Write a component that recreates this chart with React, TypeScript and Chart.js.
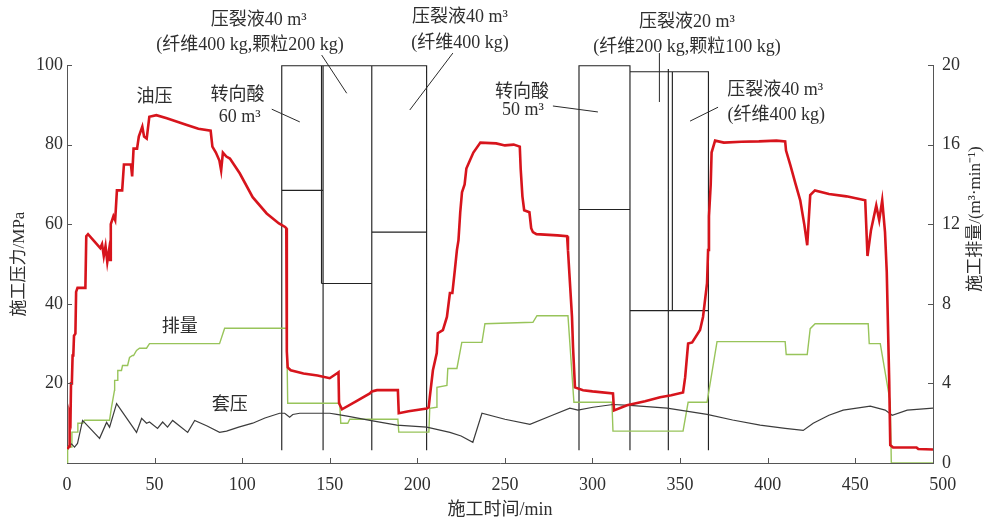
import React, { useEffect, useRef } from 'react';
import { Chart, registerables } from 'chart.js';

Chart.register(...registerables);

// ---------- data ----------
const xTickValues = [0, 50, 100, 150, 200, 250, 300, 350, 400, 450, 500];
const xMax = 494.4;

// 油压 (MPa, left axis)
const oilTime = [0.3, 1.2, 1.5, 2.0, 2.3, 2.8, 3.2, 3.6, 4.0, 4.8, 5.2, 6, 10.5, 11, 12, 16, 19, 20, 21, 22, 23, 24, 24.6, 25, 26.5, 27.5, 28.5, 31.5, 32.5, 36.5, 37.2, 38, 40, 41, 43, 44, 45.5, 47, 51, 57, 68, 75, 82, 83, 85, 87, 88, 89, 91, 93, 98.6, 106, 114, 121, 124.5, 125.2, 125.5, 126, 127.7, 135, 143, 150, 154, 155, 155.3, 157, 165, 172.9, 174, 177, 188.9, 189.4, 195, 205.4, 206.5, 207.1, 208.9, 211.1, 211.7, 214.6, 216.9, 218.6, 220, 221.4, 222.6, 223.5, 224.5, 225.5, 227, 228, 230, 232, 236, 245, 250, 255, 258.5, 259, 260, 261, 264, 265, 266, 268, 280, 285.5, 286, 288.3, 288.9, 290, 294.6, 300, 311.7, 312.3, 319.7, 330, 338.6, 345, 351.7, 352.9, 354.6, 356.9, 361.4, 363.1, 365.4, 366, 366.5, 367.5, 368, 370, 375, 385, 395, 405, 410, 410.5, 413, 416, 418.6, 421, 422.6, 424.3, 427, 435, 445, 455.7, 457, 459, 462, 463.7, 465.4, 467, 468, 469.4, 470, 471.6, 485, 486, 494.4];
const oilPressure = [3.5, 4.2, 12, 11, 20, 20.5, 27, 27, 32, 32.5, 43, 44, 44, 57, 57.5, 55.5, 54, 55, 52, 54.5, 50.5, 53.5, 51, 60, 62, 61, 68.5, 68.5, 75, 75, 72, 79, 79, 82, 84.5, 82, 81.5, 87, 87.4, 86.6, 85, 84, 83.5, 79.5, 78, 76, 73.5, 78, 77, 76.5, 72.8, 66.8, 62.7, 60.2, 59.3, 59, 28, 24, 23.3, 22.5, 22, 21.3, 22.5, 22.8, 15, 13.5, 15.5, 17.5, 18, 18.3, 18.3, 12.5, 13, 13.7, 14, 16.5, 23.3, 27.6, 32.6, 33.4, 36.7, 42.7, 42.7, 48.4, 53.5, 56, 63, 68, 70, 74, 76, 78, 80.5, 80.3, 79.8, 80, 79.5, 74, 67, 63.5, 63, 59, 58, 57.5, 57.2, 57, 53.5, 36.7, 29, 19, 18.3, 18, 17.5, 13.2, 14.5, 15.5, 16.5, 17, 17.7, 21.5, 30, 30.3, 33.4, 36.7, 45.2, 53.5, 62, 70, 78, 81, 80.5, 80.7, 80.8, 81, 80.8, 78.5, 74.8, 70, 66, 59.7, 54.7, 67.3, 68.5, 67.6, 67, 66, 52, 58.5, 64.7, 61, 66, 58, 48, 20.7, 4.5, 3.9, 3.9, 3.5, 3.4];

// 排量 (m3/min, right axis)
const rateTime = [0, 0.3, 0.4, 2.6, 2.8, 6, 6.2, 9, 10, 24.3, 25.4, 27.1, 27.2, 28.9, 29, 31.1, 31.7, 34.6, 35.7, 37.4, 38, 39.7, 41.4, 45.4, 47.1, 87.1, 90, 125.4, 126, 155.7, 156.3, 160.3, 161.4, 188.9, 189.4, 206.6, 207.1, 211, 211.2, 216.9, 217.4, 222.6, 225.4, 236.9, 238.6, 266, 268.3, 286, 289.4, 311.1, 311.7, 351.7, 354.6, 365.4, 371.1, 410, 410.6, 422.6, 424.3, 427.1, 457.4, 458, 464.3, 470, 470.6, 494.4];
const rateValue = [0, 0, 0.8, 0.8, 1.55, 1.55, 2.0, 2.0, 2.15, 2.15, 2.8, 3.65, 4.15, 4.15, 4.65, 4.65, 4.9, 4.9, 5.3, 5.4, 5.4, 5.66, 5.77, 5.77, 6.0, 6.0, 6.77, 6.77, 3.0, 3.0, 2.0, 2.0, 2.2, 2.2, 1.55, 1.55, 2.75, 2.8, 3.8, 3.9, 4.75, 4.75, 6.06, 6.06, 7.0, 7.07, 7.4, 7.4, 3.05, 3.05, 1.6, 1.6, 3.05, 3.05, 6.1, 6.1, 5.45, 5.45, 6.75, 7.0, 7.0, 6.0, 6.0, 3.05, 0, 0];

// 套压 (MPa, left axis)
const casingTime = [0.3, 1.5, 2.6, 4.3, 6, 8.9, 18.6, 22.6, 24.3, 28.3, 39.7, 42.6, 45.4, 47.1, 51.7, 54.6, 57.4, 60.3, 68.9, 72.9, 80, 87.1, 91.1, 98, 106, 113, 121.4, 124.3, 127.1, 128.9, 132.9, 150, 154, 160, 172.9, 188.3, 205.4, 218.6, 225, 231.7, 236.9, 250, 264.3, 276, 287.1, 291.7, 300.3, 311.7, 321.4, 342.6, 365.4, 380, 395.7, 410, 420.3, 426, 435, 443.1, 458.6, 467.1, 471.1, 479.7, 494.4];
const casingPressure = [3.5, 4.5, 4.8, 4.0, 4.9, 10.7, 6.2, 10.2, 9, 14.9, 7.7, 11.2, 10, 10.3, 8.7, 10.3, 9, 10.7, 7.7, 10.7, 9.3, 7.7, 8, 9, 10, 11.3, 12.5, 12.5, 11.5, 12.2, 12.5, 12.5, 12.2, 11.8, 10.7, 9.5, 9, 7.7, 6.8, 5.2, 12.5, 11, 9.7, 11.8, 13.8, 13.3, 14, 14.7, 14.5, 13.8, 12.2, 10.8, 9.5, 8.7, 8.2, 10, 12, 13.3, 14.3, 13.3, 12, 13.3, 13.8];

// stage boxes (time range, MPa range)
const boxStart = [122.6, 145.3, 174.0, 292.3, 321.4, 345.6];
const boxEnd = [146.2, 174.0, 205.3, 321.4, 366.2, 366.2];
const boxBottom = [68.5, 45.1, 58.0, 63.7, 38.3, 38.3];
const boxTop = [99.8, 99.8, 99.8, 99.8, 98.3, 98.3];
// full-height stage separators
const sepTime = [122.6, 146.2, 174.0, 205.3, 292.3, 321.4, 343.3, 366.2];
const sepTop = [99.8, 99.8, 99.8, 99.8, 99.8, 99.8, 99, 98.3];
const sepBottom = 3.2;

// annotations (time, MPa)
const noteText = ['油压', '转向酸', '60 m³', '压裂液40 m³', '(纤维400 kg,颗粒200 kg)', '压裂液40 m³', '(纤维400 kg)', '转向酸', '50 m³', '压裂液20 m³', '(纤维200 kg,颗粒100 kg)', '压裂液40 m³', '(纤维400 kg)', '排量', '套压'];
const noteTime = [50, 97.4, 98.6, 109.5, 104.5, 224.3, 224.3, 259.7, 260.3, 354, 354, 404.3, 404.9, 64.3, 92.9];
const noteValue = [91.9, 92.4, 86.9, 111.3, 105.0, 112.1, 105.5, 93.2, 88.7, 110.8, 104.5, 93.7, 87.4, 34.1, 14.5];
// leader lines
const leadFromT = [116.9, 145.4, 220.3, 277.4, 338.2, 371.7];
const leadFromV = [88.9, 102.5, 103.0, 89.7, 103.0, 89.4];
const leadToT = [132.9, 159.7, 195.7, 303.1, 338.2, 355.7];
const leadToV = [85.7, 92.9, 88.7, 88.2, 90.7, 85.9];

// ---------- styles ----------
const FONT = '"Liberation Serif", "Noto Sans CJK SC", serif';
const TEXT = '#2e2e2e';
const AXIS = '#555555';

function pts(xs: number[], ys: number[]) {
  return xs.map((x, i) => ({ x, y: ys[i] }));
}

function stagePoints() {
  const out: { x: number; y: number | null }[] = [];
  for (let i = 0; i < boxStart.length; i++) {
    out.push({ x: boxStart[i], y: boxBottom[i] });
    out.push({ x: boxStart[i], y: boxTop[i] });
    out.push({ x: boxEnd[i], y: boxTop[i] });
    out.push({ x: boxEnd[i], y: boxBottom[i] });
    out.push({ x: boxStart[i], y: boxBottom[i] });
    out.push({ x: boxStart[i], y: null });
  }
  for (let i = 0; i < sepTime.length; i++) {
    out.push({ x: sepTime[i], y: sepBottom });
    out.push({ x: sepTime[i], y: sepTop[i] });
    out.push({ x: sepTime[i], y: null });
  }
  return out;
}

const overlay = {
  id: 'overlay',
  afterDraw(chart: any) {
    const { ctx, chartArea } = chart;
    const x = chart.scales.x;
    const y = chart.scales.y;
    const y1 = chart.scales.y1;
    ctx.save();
    ctx.strokeStyle = AXIS;
    ctx.lineWidth = 1;
    ctx.beginPath();
    x.ticks.forEach((t: any) => {
      if (t.value > 0 && t.value < xMax) {
        const px = Math.round(x.getPixelForValue(t.value)) + 0.5;
        ctx.moveTo(px, chartArea.bottom);
        ctx.lineTo(px, chartArea.bottom - 5);
      }
    });
    y.ticks.forEach((t: any) => {
      if (t.value > 0) {
        const py = Math.round(y.getPixelForValue(t.value)) + 0.5;
        ctx.moveTo(chartArea.left, py);
        ctx.lineTo(chartArea.left + 5, py);
      }
    });
    y1.ticks.forEach((t: any) => {
      if (t.value > 0) {
        const py = Math.round(y1.getPixelForValue(t.value)) + 0.5;
        ctx.moveTo(chartArea.right, py);
        ctx.lineTo(chartArea.right - 5, py);
      }
    });
    ctx.stroke();

    // leader lines
    ctx.strokeStyle = '#2a2a2a';
    ctx.beginPath();
    for (let i = 0; i < leadFromT.length; i++) {
      ctx.moveTo(x.getPixelForValue(leadFromT[i]), y.getPixelForValue(leadFromV[i]));
      ctx.lineTo(x.getPixelForValue(leadToT[i]), y.getPixelForValue(leadToV[i]));
    }
    ctx.stroke();

    // notes
    ctx.fillStyle = TEXT;
    ctx.font = '18px ' + FONT;
    ctx.textAlign = 'center';
    ctx.textBaseline = 'middle';
    for (let i = 0; i < noteText.length; i++) {
      ctx.fillText(noteText[i], x.getPixelForValue(noteTime[i]), y.getPixelForValue(noteValue[i]));
    }

    // right axis title
    ctx.font = '17px ' + FONT;
    ctx.translate(976, (chartArea.top + chartArea.bottom) / 2 - 45);
    ctx.rotate(-Math.PI / 2);
    ctx.fillText('施工排量/(m³·min⁻¹)', 0, 0);
    ctx.restore();
  },
};

export default function App() {
  const ref = useRef<HTMLCanvasElement | null>(null);
  useEffect(() => {
    if (!ref.current) return;
    Chart.defaults.font.family = FONT;
    const chart = new Chart(ref.current, {
      type: 'line',
      data: {
        datasets: [
          {
            label: '油压',
            data: pts(oilTime, oilPressure),
            yAxisID: 'y',
            borderColor: '#d7141c',
            borderWidth: 2.6,
            pointRadius: 0,
            tension: 0,
          },
          {
            label: '套压',
            data: pts(casingTime, casingPressure),
            yAxisID: 'y',
            borderColor: '#3c3c3c',
            borderWidth: 1.2,
            pointRadius: 0,
            tension: 0,
          },
          {
            label: '排量',
            data: pts(rateTime, rateValue),
            yAxisID: 'y1',
            borderColor: '#98c45a',
            borderWidth: 1.4,
            pointRadius: 0,
            tension: 0,
          },
          {
            label: 'stages',
            data: stagePoints(),
            yAxisID: 'y',
            borderColor: '#222222',
            borderWidth: 1.15,
            pointRadius: 0,
            tension: 0,
            spanGaps: false,
            clip: 4,
          },
        ],
      },
      options: {
        animation: false,
        responsive: false,
        events: [],
        layout: { padding: { top: 65, left: 0, right: 0, bottom: 0 } },
        plugins: { legend: { display: false }, tooltip: { enabled: false } },
        scales: {
          x: {
            type: 'linear',
            min: 0,
            max: xMax,
            afterBuildTicks: (s: any) => {
              s.ticks = xTickValues.map((v) => ({ value: v }));
            },
            afterFit: (s: any) => {
              s.height = 56;
            },
            ticks: { autoSkip: false, maxRotation: 0, padding: 11, color: TEXT, font: { size: 18 } },
            grid: { display: false, drawTicks: false },
            border: { display: true, color: AXIS, width: 1 },
            title: { display: true, text: '施工时间/min', color: TEXT, font: { size: 18 }, padding: { top: 0, bottom: -2 } },
          },
          y: {
            type: 'linear',
            position: 'left',
            min: 0,
            max: 100,
            afterFit: (s: any) => {
              s.width = 67;
            },
            ticks: { stepSize: 20, padding: 4, color: TEXT, font: { size: 18 }, callback: (v: any) => (v === 0 ? '' : String(v)) },
            grid: { display: false, drawTicks: false },
            border: { display: true, color: AXIS, width: 1 },
            title: { display: true, text: '施工压力/MPa', color: TEXT, font: { size: 17 }, padding: { top: 9, bottom: 0 } },
          },
          y1: {
            type: 'linear',
            position: 'right',
            min: 0,
            max: 20,
            afterFit: (s: any) => {
              s.width = 56;
            },
            ticks: { stepSize: 4, padding: 9, color: TEXT, font: { size: 18 } },
            grid: { display: false, drawTicks: false },
            border: { display: true, color: AXIS, width: 1 },
          },
        },
      },
      plugins: [overlay],
    } as any);
    return () => chart.destroy();
  }, []);
  return (
    <div style={{ position: 'fixed', left: 0, top: 0, width: 989, height: 519, background: '#fff' }}>
      <canvas ref={ref} width={989} height={519} style={{ display: 'block' }} />
    </div>
  );
}
